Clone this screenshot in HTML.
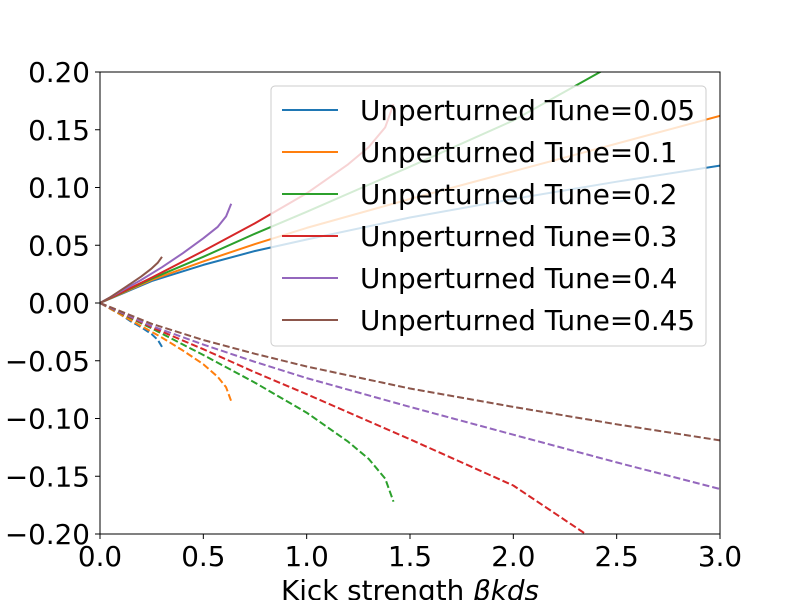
<!DOCTYPE html>
<html><head><meta charset="utf-8"><style>
body{margin:0;background:#fff}
svg{font-family:"DejaVu Sans","Liberation Sans",sans-serif}
</style></head><body>
<svg id="chart" width="800" height="600" xmlns="http://www.w3.org/2000/svg">
<defs><clipPath id="plotclip"><rect x="100" y="72" width="620" height="462"/></clipPath></defs>
<g id="lines" clip-path="url(#plotclip)"></g>
<g id="axes"></g>
<g id="legend"></g>
</svg>
<script>
const tunes = ["0.05","0.1","0.2","0.3","0.4","0.45"];
const colors = ["#1f77b4","#ff7f0e","#2ca02c","#d62728","#9467bd","#8c564b"];
const xTicks = [0,0.5,1,1.5,2,2.5,3];
const yTicks = [-0.2,-0.15,-0.1,-0.05,0,0.05,0.1,0.15,0.2];
const solid005 = [[0,0],[0.25,0.019],[0.5,0.033],[0.75,0.045],[1,0.055],[1.5,0.074],[2,0.09],[2.5,0.105],[3,0.119]];
const solid01 = [[0,0],[0.25,0.02],[0.5,0.036],[0.75,0.051],[1,0.065],[1.5,0.09],[2,0.114],[2.5,0.138],[3,0.162]];
const solid02 = [[0,0],[0.25,0.021],[0.5,0.04],[0.75,0.06],[1,0.079],[1.5,0.118],[2,0.158],[2.42,0.2],[2.5,0.21]];
const solid03 = [[0,0],[0.25,0.022],[0.5,0.045],[0.75,0.069],[1,0.095],[1.2,0.12],[1.3,0.135],[1.38,0.152],[1.42,0.172]];
const solid04 = [[0,0],[0.1,0.01],[0.2,0.02],[0.3,0.031],[0.4,0.043],[0.5,0.056],[0.57,0.066],[0.61,0.075],[0.635,0.086]];
const solid045 = [[0,0],[0.05,0.005],[0.1,0.011],[0.15,0.017],[0.2,0.023],[0.25,0.03],[0.28,0.035],[0.3,0.04]];
const dash005 = [[0,0],[0.05,-0.005],[0.1,-0.01],[0.15,-0.016],[0.2,-0.021],[0.25,-0.027],[0.28,-0.032],[0.3,-0.038]];
const dash01 = [[0,0],[0.1,-0.01],[0.2,-0.02],[0.3,-0.03],[0.4,-0.041],[0.5,-0.053],[0.57,-0.064],[0.61,-0.073],[0.635,-0.085]];
const dash02 = [[0,0],[0.25,-0.022],[0.5,-0.045],[0.75,-0.069],[1,-0.095],[1.2,-0.12],[1.3,-0.135],[1.38,-0.152],[1.42,-0.172]];
const dash03 = [[0,0],[0.25,-0.021],[0.5,-0.04],[0.75,-0.06],[1,-0.079],[1.5,-0.118],[2,-0.158],[2.35,-0.2],[2.45,-0.21]];
const dash04 = [[0,0],[0.25,-0.02],[0.5,-0.036],[0.75,-0.051],[1,-0.065],[1.5,-0.09],[2,-0.114],[2.5,-0.138],[3,-0.161]];
const dash045 = [[0,0],[0.25,-0.018],[0.5,-0.032],[0.75,-0.044],[1,-0.055],[1.5,-0.074],[2,-0.09],[2.5,-0.105],[3,-0.119]];
const solids=[solid005,solid01,solid02,solid03,solid04,solid045];
const dashes=[dash005,dash01,dash02,dash03,dash04,dash045];
const X0=100,X1=720,Y0=534,Y1=72;
const sx=v=>X0+(v-0)/(3-0)*(X1-X0);
const sy=v=>Y0-(v+0.2)/0.4*(Y0-Y1);
const NS="http://www.w3.org/2000/svg";
function mk(t,a,p){const e=document.createElementNS(NS,t);for(const k in a)e.setAttribute(k,a[k]);p.appendChild(e);return e;}
const lines=document.getElementById('lines'),axes=document.getElementById('axes'),leg=document.getElementById('legend');
function draw(data,i,dashed){
  const d=data.map((p,j)=>(j?'L':'M')+sx(p[0]).toFixed(1)+','+sy(p[1]).toFixed(1)).join('');
  const el=mk('path',{d:d,fill:'none',stroke:colors[i],'stroke-width':2,'stroke-linejoin':'round','stroke-dasharray':dashed?'7,3':'none'},lines);
  
  
}
solids.forEach((s,i)=>draw(s,i,false));
dashes.forEach((s,i)=>draw(s,i,true));
const frame=mk('rect',{x:X0,y:Y1,width:X1-X0,height:Y0-Y1,fill:'none',stroke:'#000','stroke-width':1},axes);


xTicks.forEach(v=>{
  mk('line',{x1:sx(v),x2:sx(v),y1:Y0,y2:Y0+5,stroke:'#000'},axes);
  const t=mk('text',{x:sx(v),y:Y0+32,'text-anchor':'middle','font-size':27.8},axes);t.textContent=v.toFixed(1);
  
  
});
yTicks.forEach(v=>{
  mk('line',{x1:X0-5,x2:X0,y1:sy(v),y2:sy(v),stroke:'#000'},axes);
  const t=mk('text',{x:X0-10,y:sy(v)+10,'text-anchor':'end','font-size':27.8},axes);t.textContent=(v<0?'\u2212':'')+Math.abs(v).toFixed(2);
  
  
});
const xl=mk('text',{x:410,y:600,'text-anchor':'middle','font-size':27.8},axes);
xl.innerHTML='Kick strength <tspan font-style="italic">βkds</tspan>';


const lb=mk('rect',{x:271,y:86,width:435,height:260,rx:4,fill:'rgba(255,255,255,0.8)',stroke:'#ccc'},leg);


tunes.forEach((tn,i)=>{
  const y=110+i*42;
  const g=mk('g',{},leg);
  
  
  mk('line',{x1:282,x2:338,y1:y,y2:y,stroke:colors[i],'stroke-width':2},g);
  const t=mk('text',{x:360,y:y+10,'font-size':27.8},g);t.textContent='Unperturned Tune='+tn;
});
</script>
</body></html>
